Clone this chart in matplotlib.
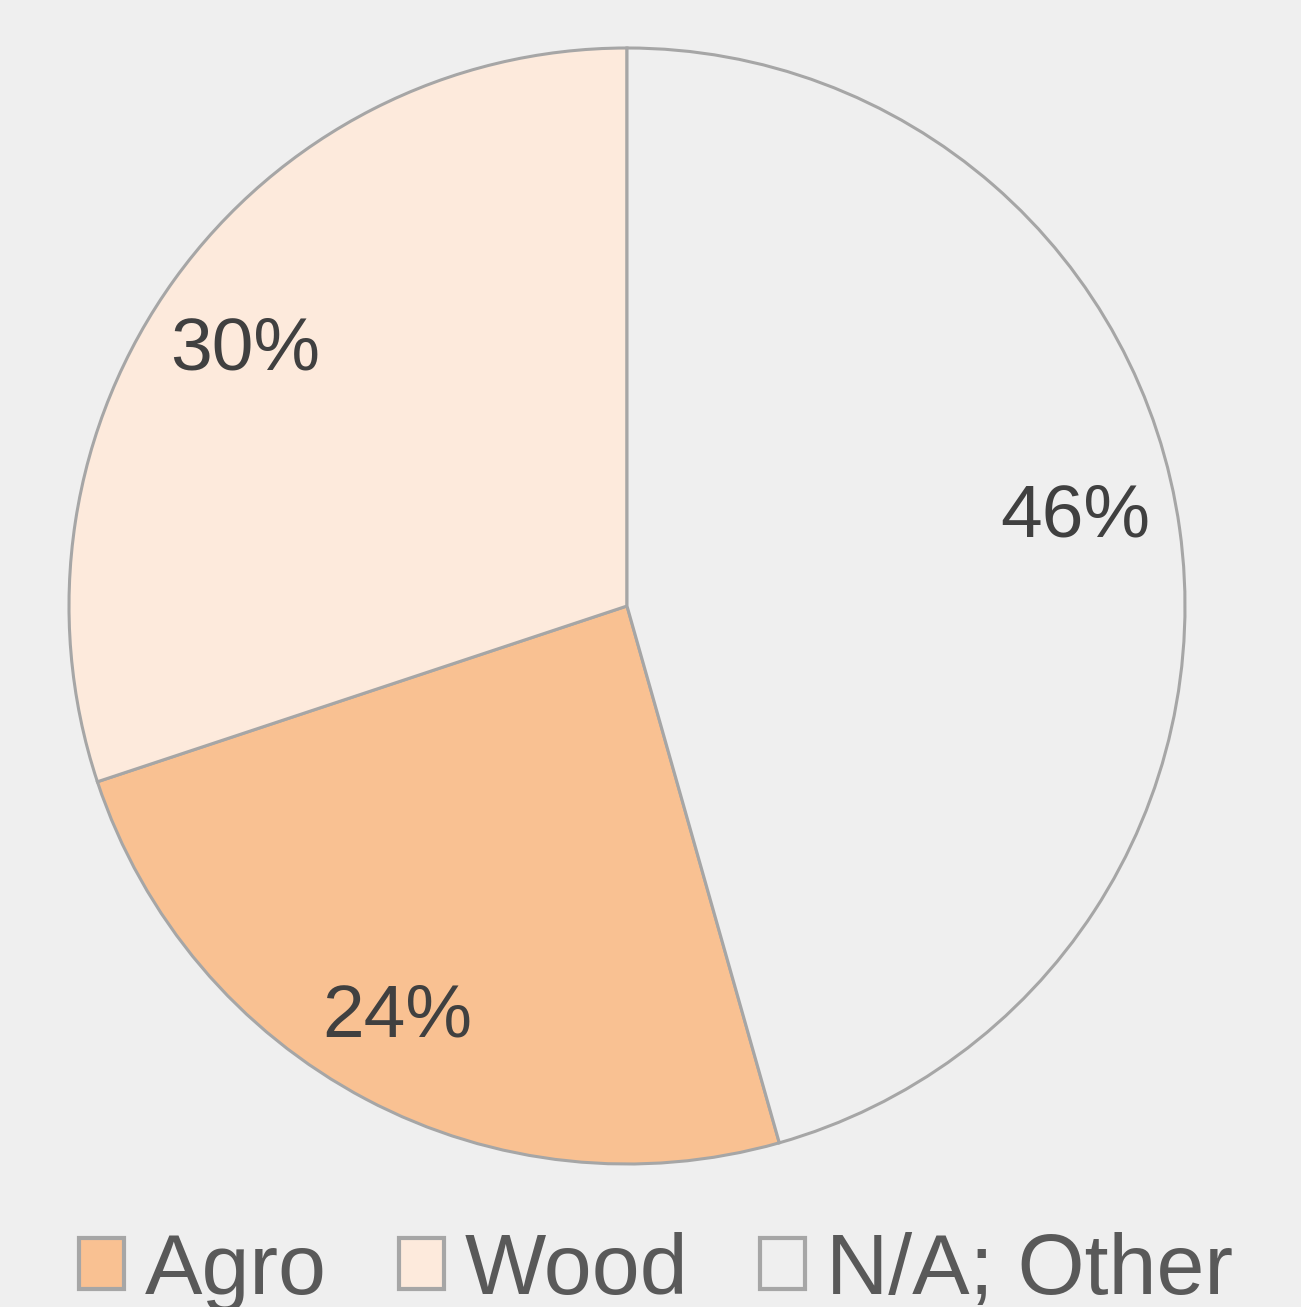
import matplotlib
matplotlib.use("Agg")
import matplotlib.pyplot as plt

categories = ["Agro", "Wood", "N/A; Other"]
values = [24.3, 30.1, 45.6]
colors = ["#F9C192", "#FDEADC", "#EFEFEF"]

# label anchor points in pie (radius = 1) coordinates
label_xy = [(-0.412, -0.737), (-0.685, 0.459), (0.803, 0.159)]

plt.rcParams['font.family'] = ['Liberation Sans', 'DejaVu Sans']

W, H = 1301, 1307
fig = plt.figure(figsize=(W / 100, H / 100), dpi=100, facecolor="#EFEFEF")
cx, cy, r = 627, 606, 558
ax = fig.add_axes([(cx - r) / W, (H - cy - r) / H, 2 * r / W, 2 * r / H])
ax.set_facecolor("#EFEFEF")

start = 90 - (values[2] / sum(values)) * 360
wedges, texts, autotexts = ax.pie(
    values, colors=colors, startangle=start, counterclock=False,
    autopct=lambda p: f"{p:.0f}%", pctdistance=0.83,
    wedgeprops=dict(edgecolor="#A6A6A6", linewidth=2.2),
    textprops=dict(fontsize=54, color="#404040"))
for t, xy in zip(autotexts, label_xy):
    t.set_position(xy)
ax.set_xlim(-1, 1)
ax.set_ylim(-1, 1)
ax.set_aspect('equal')
ax.axis('off')

leg = fig.legend(wedges, categories, loc="center", bbox_to_anchor=(656 / W, 1 - 1272 / H),
                 ncol=3, frameon=False, fontsize=62, handlelength=0.52, handleheight=0.52,
                 handletextpad=0.24, columnspacing=0.84, borderpad=0, borderaxespad=0)
for t in leg.get_texts():
    t.set_color("#595959")
for h in leg.legend_handles:
    h.set_linewidth(3)
    h.set_edgecolor("#A6A6A6")

fig.savefig("out.png", dpi=100, facecolor="#EFEFEF")
